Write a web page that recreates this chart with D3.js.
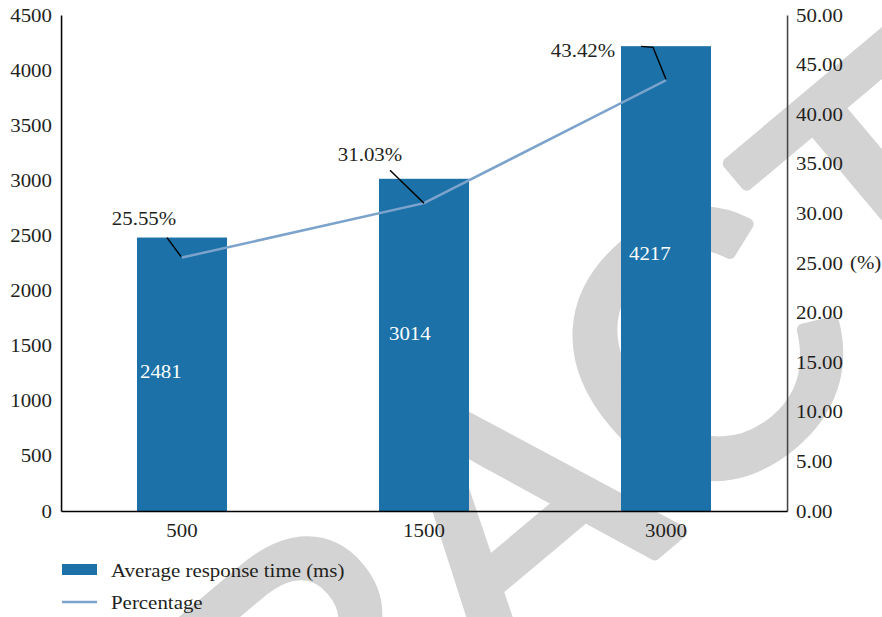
<!DOCTYPE html>
<html>
<head>
<meta charset="utf-8">
<script src="https://cdn.jsdelivr.net/npm/d3@7"></script>
<style>
  html, body { margin: 0; padding: 0; background: #fff; }
  svg { display: block; }
  text { font-family: "Liberation Serif", "Times New Roman", serif; fill: #231f20; }
</style>
</head>
<body>
<svg id="chart" width="882" height="617"></svg>
<script>
// ---- data ----
const categories = ["500", "1500", "3000"];
const responseTime = [2481, 3014, 4217];          // ms, left axis
const percentage = [25.55, 31.03, 43.42];          // %, right axis
const leftTicks = [0, 500, 1000, 1500, 2000, 2500, 3000, 3500, 4000, 4500];
const rightTicks = [0, 5, 10, 15, 20, 25, 30, 35, 40, 45, 50];
const seriesNames = ["Average response time (ms)", "Percentage"];

// ---- layout ----
const W = 882, H = 617, sx = 1.1;          // text in the source is horizontally stretched
const L = 61, R = 787, T = 15, B = 511;
const barColor = "#1b71a8", lineColor = "#7ba3cc", ink = "#231f20";
const fontSize = 19;

const svg = d3.select("#chart");

// watermark (behind everything)
svg.append("text")
  .attr("transform", "translate(507,513) rotate(-40)")
  .attr("text-anchor", "middle")
  .attr("dominant-baseline", "central")
  .style("font-family", "'Liberation Sans', Arial, sans-serif")
  .style("font-size", "366px")
  .style("fill", "#d3d3d3")
  .style("stroke", "#d3d3d3")
  .style("stroke-width", "12px")
  .style("stroke-linejoin", "round")
  .text("RETRACTED");

const g = svg.append("g").attr("transform", `scale(${sx},1)`);

const x = d3.scaleBand().domain(categories)
  .range([L / sx, R / sx]).paddingInner(0.628).paddingOuter(0.314);
const yL = d3.scaleLinear().domain([0, 4500]).range([B, T]);
const yR = d3.scaleLinear().domain([0, 50]).range([B, T]);

// bars
g.selectAll("rect.bar").data(categories).join("rect")
  .attr("class", "bar")
  .attr("x", d => x(d))
  .attr("width", x.bandwidth())
  .attr("y", (d, i) => yL(responseTime[i]))
  .attr("height", (d, i) => B - yL(responseTime[i]))
  .attr("fill", barColor);

// value labels inside bars
const valueLabelFrac = [0.51, 0.536, 0.555];
const valueLabelDx = [3, 10, 8];
g.selectAll("text.val").data(categories).join("text")
  .attr("class", "val")
  .attr("x", (d, i) => x(d) + valueLabelDx[i] / sx)
  .attr("y", (d, i) => yL(responseTime[i] * valueLabelFrac[i]))
  .attr("dy", "0.35em")
  .style("font-size", fontSize + "px")
  .style("fill", "#ffffff")
  .text((d, i) => responseTime[i]);

// axes
const axL = g.append("g").attr("transform", `translate(${L / sx},0)`)
  .call(d3.axisLeft(yL).tickValues(leftTicks).tickFormat(d3.format("d"))
    .tickSize(0).tickSizeOuter(0).tickPadding(9 / sx));
axL.select(".domain").attr("stroke", "#000").attr("stroke-width", 1.4);

const axR = g.append("g").attr("transform", `translate(${R / sx},0)`)
  .call(d3.axisRight(yR).tickValues(rightTicks).tickFormat(d3.format(".2f"))
    .tickSize(0).tickSizeOuter(0).tickPadding(9 / sx));
axR.select(".domain").attr("stroke", "#444").attr("stroke-width", 1.4);

const axB = g.append("g").attr("transform", `translate(0,${B})`)
  .call(d3.axisBottom(x).tickSize(0).tickSizeOuter(0).tickPadding(13));
axB.select(".domain").attr("stroke", "#000").attr("stroke-width", 1.4);

g.selectAll(".tick text")
  .style("font-family", "'Liberation Serif', 'Times New Roman', serif")
  .style("font-size", fontSize + "px")
  .style("fill", ink);

g.append("text")
  .attr("x", 850 / sx).attr("y", yR(25)).attr("dy", "0.32em")
  .style("font-size", fontSize + "px")
  .text("(%)");

// percentage line
const cx = d => x(d) + x.bandwidth() / 2;
g.append("path")
  .datum(categories)
  .attr("fill", "none")
  .attr("stroke", lineColor)
  .attr("stroke-width", 2.5)
  .attr("d", d3.line().x(d => cx(d)).y((d, i) => yR(percentage[i])));

// percentage labels with leader lines (offsets from the data point, px)
const pctLabelOffset = [[-38, -39], [-54, -49], [-83, -30]];
const leaderPts = [
  [[-15, -20], [-1, -1]],
  [[-34, -33], [0, 0]],
  [[-25, -34], [-13, -33], [0, -1]]
];
categories.forEach((c, i) => {
  const px = cx(c), py = yR(percentage[i]);
  g.append("path")
    .attr("fill", "none").attr("stroke", "#000").attr("stroke-width", 1.3)
    .attr("d", d3.line()(leaderPts[i].map(p => [px + p[0] / sx, py + p[1]])));
  g.append("text")
    .attr("x", px + pctLabelOffset[i][0] / sx)
    .attr("y", py + pctLabelOffset[i][1])
    .attr("dy", "0.35em")
    .attr("text-anchor", "middle")
    .style("font-size", fontSize + "px")
    .text(percentage[i].toFixed(2) + "%");
});

// legend
g.append("rect")
  .attr("x", 62 / sx).attr("y", 564).attr("width", 35 / sx).attr("height", 11)
  .attr("fill", barColor);
g.append("text")
  .attr("x", 111 / sx).attr("y", 570).attr("dy", "0.35em")
  .style("font-size", fontSize + "px")
  .text(seriesNames[0]);
g.append("line")
  .attr("x1", 62 / sx).attr("x2", 97 / sx).attr("y1", 602).attr("y2", 602)
  .attr("stroke", lineColor).attr("stroke-width", 2.5);
g.append("text")
  .attr("x", 111 / sx).attr("y", 602).attr("dy", "0.35em")
  .style("font-size", fontSize + "px")
  .text(seriesNames[1]);
</script>
</body>
</html>
